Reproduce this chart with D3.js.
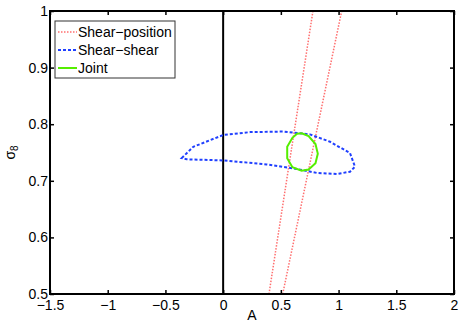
<!DOCTYPE html>
<html>
<head>
<meta charset="utf-8">
<script src="https://cdn.jsdelivr.net/npm/d3@7"></script>
<style>
  body { margin: 0; background: #fff; }
  text { font-family: "Liberation Sans", Arial, sans-serif; }
</style>
</head>
<body>
<div id="chart"></div>
<script>
// tick values
const xTicks = [-1.5, -1, -0.5, 0, 0.5, 1, 1.5, 2]
const yTicks = [0.5, 0.6, 0.7, 0.8, 0.9, 1]

// shear-position constraint: two edges of a long thin band [A, sigma8]
const shearPosLeft = [[0.397, 0.5], [0.778, 1.0]]
const shearPosRight = [[0.516, 0.5], [1.027, 1.0]]

// shear-shear contour [A, sigma8]
const shearShear = [
  [-0.359, 0.740], [-0.259, 0.760], [0.001, 0.781], [0.233, 0.786],
  [0.521, 0.787], [0.752, 0.782], [0.926, 0.769], [1.099, 0.749],
  [1.142, 0.725], [1.099, 0.716], [0.984, 0.712], [0.810, 0.714],
  [0.608, 0.722], [0.377, 0.729], [0.001, 0.736], [-0.316, 0.738]
]

// joint contour [A, sigma8]
const joint = [
  [0.68, 0.784], [0.74, 0.779], [0.80, 0.765], [0.82, 0.748],
  [0.80, 0.731], [0.74, 0.720], [0.68, 0.718], [0.60, 0.724],
  [0.555, 0.740], [0.555, 0.760], [0.60, 0.776], [0.64, 0.783]
]

const legendItems = [
  { label: 'Shear\u2212position', color: '#ff6f6f', dash: '1.5,1.5', width: 1.5 },
  { label: 'Shear\u2212shear', color: '#1f3fff', dash: '3,2', width: 2 },
  { label: 'Joint', color: '#55ee00', dash: null, width: 2 }
]

const W = 461, H = 327
const margin = { top: 11, right: 7, bottom: 33, left: 50 }
const width = W - margin.left - margin.right
const height = H - margin.top - margin.bottom

const svg = d3.select('#chart')
  .append('svg')
  .attr('width', W)
  .attr('height', H)

const g = svg.append('g')
  .attr('transform', `translate(${margin.left}, ${margin.top})`)

const x = d3.scaleLinear().domain([-1.5, 2]).range([0, width])
const y = d3.scaleLinear().domain([0.5, 1]).range([height, 0])

g.append('clipPath').attr('id', 'clip')
  .append('rect').attr('width', width).attr('height', height)

const plot = g.append('g').attr('clip-path', 'url(#clip)')

const line = d3.line().x(d => x(d[0])).y(d => y(d[1]))
const closed = d3.line().x(d => x(d[0])).y(d => y(d[1])).curve(d3.curveLinearClosed)

// vertical line at A = 0
plot.append('line')
  .attr('x1', x(0)).attr('x2', x(0))
  .attr('y1', 0).attr('y2', height)
  .attr('stroke', '#000').attr('stroke-width', 2)

;[shearPosLeft, shearPosRight].forEach(d => {
  plot.append('path')
    .datum(d)
    .attr('d', line)
    .attr('fill', 'none')
    .attr('stroke', legendItems[0].color)
    .attr('stroke-width', 1.5)
    .attr('stroke-dasharray', '1.5,1.5')
})

plot.append('path')
  .datum(shearShear)
  .attr('d', closed)
  .attr('fill', 'none')
  .attr('stroke', legendItems[1].color)
  .attr('stroke-width', 2)
  .attr('stroke-dasharray', '3,2')

plot.append('path')
  .datum(joint)
  .attr('d', closed)
  .attr('fill', 'none')
  .attr('stroke', legendItems[2].color)
  .attr('stroke-width', 2)

const fmt = d => d3.format('')(d).replace('-', '\u2212')

// axes with inward ticks, matlab style
const xAxis = g.append('g')
  .attr('transform', `translate(0, ${height})`)
  .call(d3.axisBottom(x).tickValues(xTicks).tickSizeInner(-4).tickSizeOuter(0).tickFormat(fmt))
xAxis.select('.domain').remove()
xAxis.selectAll('text').attr('y', 6).attr('font-size', 14).attr('fill', '#000')
  .attr('font-family', '"Liberation Sans", Arial, sans-serif')
xAxis.selectAll('line').attr('stroke-width', 1.5)

g.append('g')
  .call(d3.axisTop(x).tickValues(xTicks).tickSizeInner(-4).tickSizeOuter(0).tickFormat(''))
  .call(a => a.select('.domain').remove())
  .selectAll('line').attr('stroke-width', 1.5)

const yAxis = g.append('g')
  .call(d3.axisLeft(y).tickValues(yTicks).tickSizeInner(-4).tickSizeOuter(0).tickFormat(fmt))
yAxis.select('.domain').remove()
yAxis.selectAll('text').attr('x', -2).attr('font-size', 14).attr('fill', '#000')
  .attr('font-family', '"Liberation Sans", Arial, sans-serif')
yAxis.selectAll('line').attr('stroke-width', 1.5)

g.append('g')
  .attr('transform', `translate(${width}, 0)`)
  .call(d3.axisRight(y).tickValues(yTicks).tickSizeInner(-4).tickSizeOuter(0).tickFormat(''))
  .call(a => a.select('.domain').remove())
  .selectAll('line').attr('stroke-width', 1.5)

// frame
g.append('rect')
  .attr('width', width).attr('height', height)
  .attr('fill', 'none').attr('stroke', '#000').attr('stroke-width', 2)

// axis labels
g.append('text')
  .attr('x', width / 2).attr('y', height + 26)
  .attr('text-anchor', 'middle').attr('font-size', 14)
  .text('A')

const yl = g.append('text')
  .attr('transform', `translate(-35, ${height / 2}) rotate(-90)`)
  .attr('text-anchor', 'middle').attr('font-size', 14)
yl.append('tspan').text('\u03c3')
yl.append('tspan').attr('font-size', 10).attr('dy', 3).text('8')

// legend
const legend = g.append('g').attr('transform', 'translate(5, 10)')
legend.append('rect')
  .attr('width', 120).attr('height', 57)
  .attr('fill', '#fff').attr('stroke', '#333').attr('stroke-width', 1)

legendItems.forEach((d, i) => {
  const row = legend.append('g').attr('transform', `translate(0, ${11 + i * 18})`)
  row.append('line')
    .attr('x1', 3).attr('x2', 22)
    .attr('stroke', d.color).attr('stroke-width', d.width)
    .attr('stroke-dasharray', d.dash)
  row.append('text')
    .attr('x', 23).attr('dy', '0.35em')
    .attr('font-size', 14)
    .text(d.label)
})
</script>
</body>
</html>
